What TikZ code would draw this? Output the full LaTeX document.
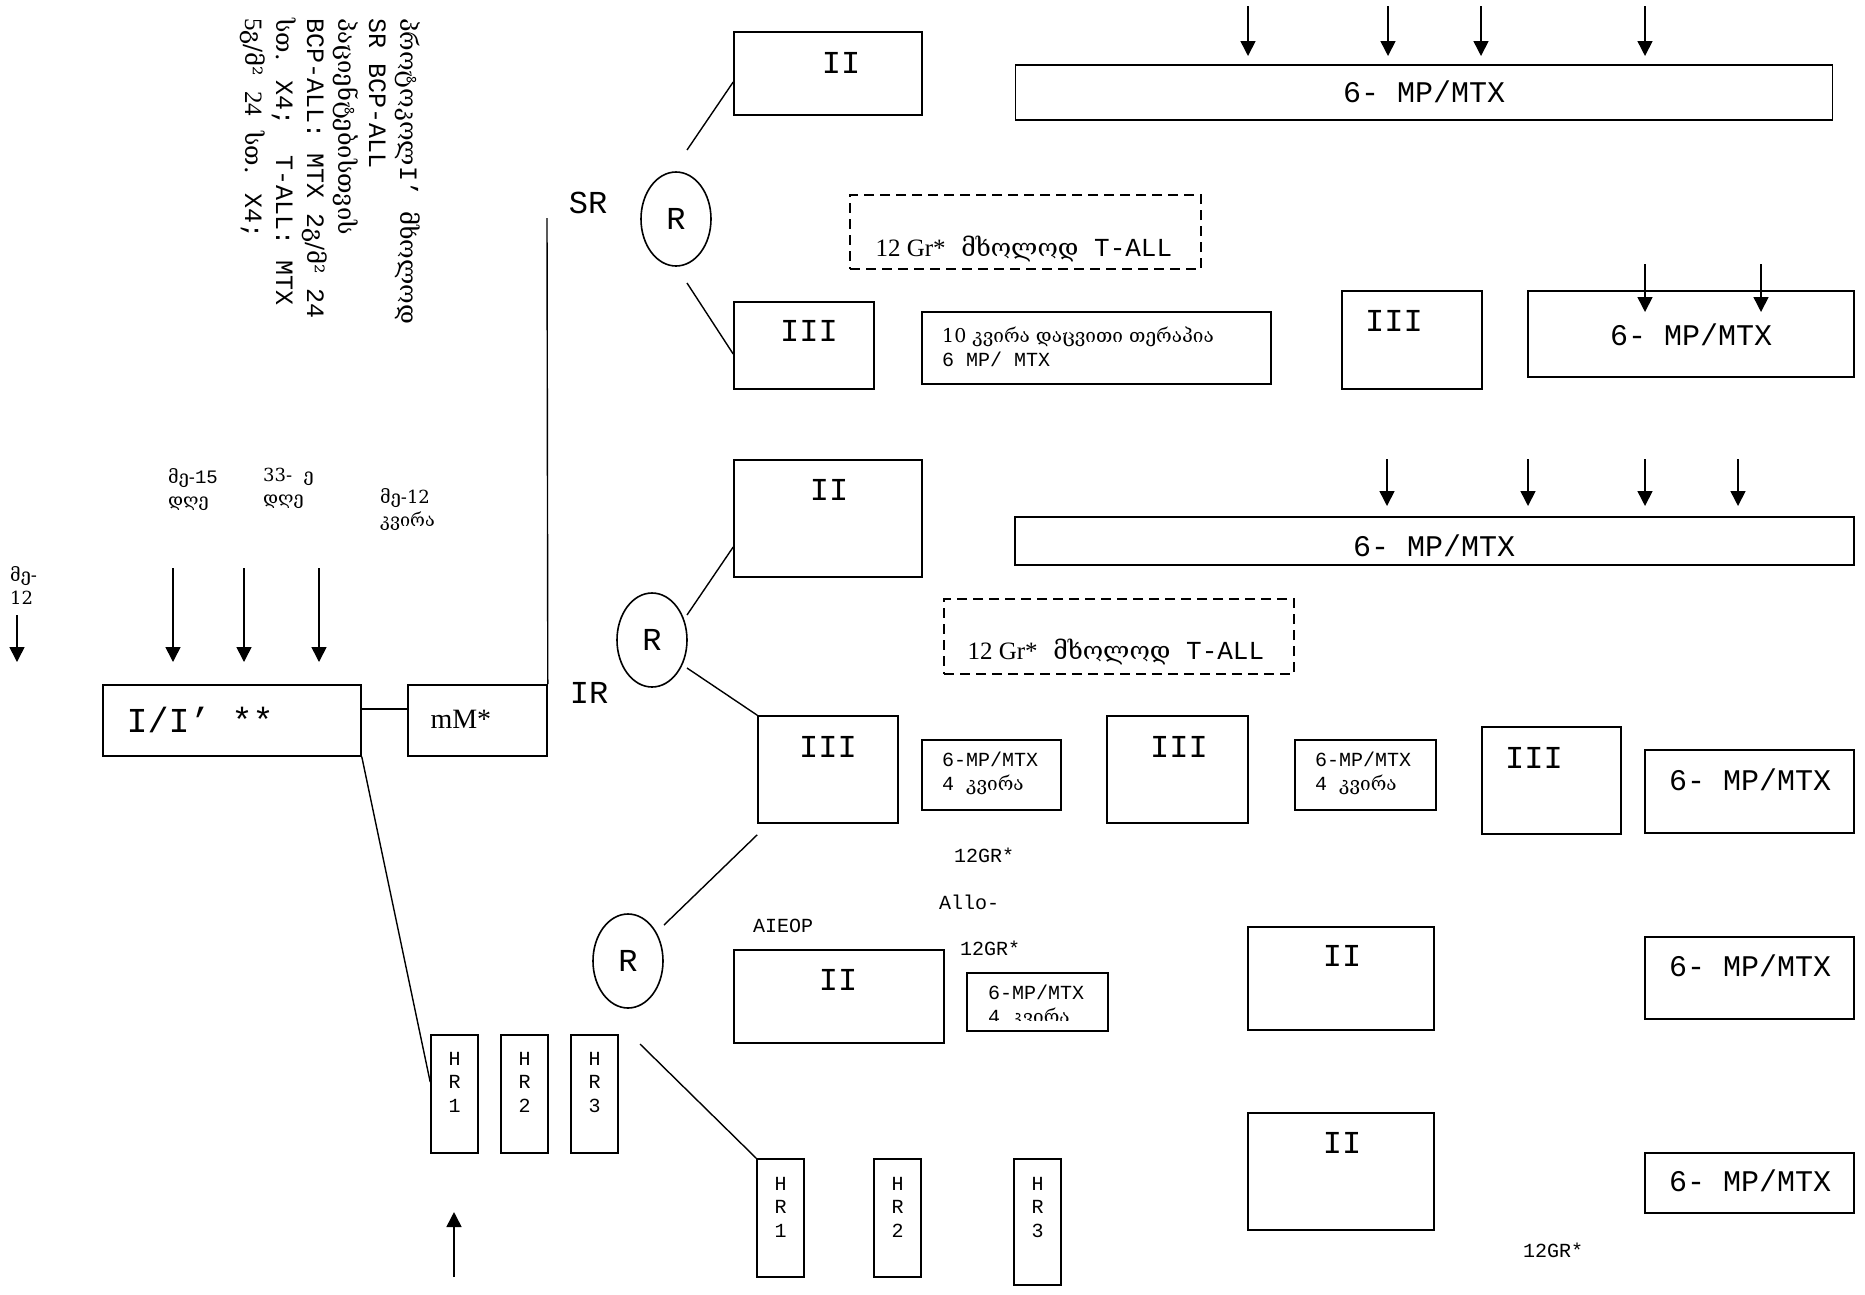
\documentclass[tikz,border=0pt]{standalone}
\usepackage{fontspec}
\setmainfont{Liberation Mono}
\newfontfamily\geo[Scale=0.95]{DejaVu Serif}
\newfontfamily\tms{Liberation Serif}
\usetikzlibrary{calc,arrows.meta,shapes.geometric}
\tikzset{
  box/.style={draw,line width=1.6pt,inner sep=0pt},
  dbox/.style={box,dash pattern=on 10pt off 6pt},
  rr/.style={draw,ellipse,line width=1.6pt,minimum width=70pt,minimum height=94pt,inner sep=0pt,font=\fontsize{32}{38}\selectfont},
  ln/.style={line width=1.4pt},
  ar/.style={-{Triangle[length=15pt,width=15pt]},line width=1.6pt},
  big/.style={font=\fontsize{32}{38}\selectfont},
  six/.style={font=\fontsize{30}{34}\selectfont},
  mid/.style={font=\fontsize{26}{30}\selectfont},
  sml/.style={font=\fontsize{20}{24}\selectfont,align=left,inner sep=0pt},
  geol/.style={font={\fontsize{19}{23}\selectfont\geo},align=left,inner sep=0pt},
  hr/.style={font=\fontsize{20}{23.5}\selectfont,align=center,inner sep=0pt}
}
\newcommand{\bx}[4]{\node[box,minimum width=#3pt,minimum height=#4pt] (#1) at (#2) {};}
\newcommand{\grnote}{{\fontsize{25}{30}\selectfont\tms 12 Gr*} {\fontsize{26}{30}\selectfont\geo მხოლოდ} T-ALL}
\newcommand{\mpmtx}{6- MP/MTX}

\begin{document}
\begin{tikzpicture}[x=1pt,y=-1pt]
\useasboundingbox (0,0) rectangle (1865,1294);

% protocol note
\node[rotate=-90,anchor=north west,align=left,inner sep=0pt,font=\fontsize{25}{31}\selectfont] (note) at (420,18)
  {{\geo პროტოკოლ}I’ {\geo მხოლოდ}\\SR BCP-ALL\\{\geo პაციენტებისთვის}\\BCP-ALL: MTX 2{\geo გ/მ²} 24\\{\geo სთ.} X4;\ \ T-ALL: MTX\\{\tms 5}{\geo გ/მ²} {\tms 24} {\geo სთ.} X4;};

% day marks
\node[geol,anchor=north west] (d15) at (168,468) {მე-{\rmfamily 15}\\დღე};
\node[geol,anchor=north west] (d33) at (263,468) {33-\ \ ე\\დღე};
\node[geol,anchor=north west] (w12) at (380,488) {მე-12\\კვირა};
\node[geol,anchor=north west] (l12) at (10,566) {მე-\\12};
\foreach \x/\y in {17/615,173/568,244/568,319/568} \draw[ar] (\x,\y) -- (\x,662);

% induction
\bx{ind}{232,720.5}{258}{71}
\node[font=\fontsize{35}{40}\selectfont,anchor=west] (indt) at (123,720) {I/I’ **};
\bx{mm}{477.5,720.5}{139}{71}
\node[font={\fontsize{28}{34}\selectfont\tms},anchor=west] (mmt) at (427,719) {mM*};
\draw[ln] ([yshift=11.5pt]ind.east) -- ([yshift=11.5pt]mm.west);
\coordinate (top) at (547,218);
\draw[ln] (mm.north east) -- (top);
\node[big] (srt) at (588,203) {SR};
\node[big] (irt) at (589,693) {IR};

\node[rr] (rsr) at (676,219) {R};
\node[rr] (rir) at (652,640) {R};
\node[rr] (rhr) at (628,961) {R};

% SR
\bx{iia}{828,73.5}{188}{83}
\node[big] (iiat) at (841,63) {II};
\draw[ln] ($(rsr)+(11,-69)$) -- ($(iia.west)+(0,8.5)$);
\bx{iiia}{804,345.5}{140}{87}
\node[big] (iiiat) at (809,331) {III};
\draw[ln] ($(rsr)+(11,64)$) -- ($(iiia.west)+(0,8.5)$);
\node[dbox,minimum width=351pt,minimum height=74pt] (gra) at (1025.5,232) {};
\node[mid,anchor=west] (grat) at (872,249) {\grnote};
\bx{mnt}{1096.5,348}{349}{72}
\node[sml,anchor=west] (mntt) at (942,347) {{\geo 10 კვირა დაცვითი თერაპია}\\6 MP/ MTX};
\bx{iiib}{1412,340}{140}{98}
\node[big] (iiibt) at (1394,321) {III};
\bx{mpa}{1424,92.5}{817}{55}
\node[six] (mpat) at (1424,92) {\mpmtx};
\foreach \x in {1248,1388,1481,1645} \draw[ar] (\x,6) -- (\x,56);
\bx{mpb}{1691,334}{326}{86}
\node[six] (mpbt) at (1691,335) {\mpmtx};
\foreach \x in {1645,1761} \draw[ar] (\x,264) -- (\x,312);

% IR
\bx{iib}{828,518.5}{188}{117}
\node[big] (iibt) at (829,490) {II};
\draw[ln] ($(rir)+(35,-25)$) -- ($(iib.west)+(0,28.5)$);
\bx{mpc}{1434.5,541}{839}{48}
\node[six] (mpct) at (1434,546) {\mpmtx};
\foreach \x in {1387,1528,1645,1738} \draw[ar] (\x,459) -- (\x,506);
\node[dbox,minimum width=350pt,minimum height=75pt] (grb) at (1119,636.5) {};
\node[mid,anchor=west] (grbt) at (964,652) {\grnote};
\bx{iiic}{828,769.5}{140}{107}
\node[big] (iiict) at (828,747) {III};
\draw[ln] ($(rir)+(35,28)$) -- (iiic.north west);
\bx{wka}{991.5,775}{139}{70}
\node[sml,anchor=west] (wkat) at (942,773) {6-MP/MTX\\4 {\geo კვირა}};
\bx{iiid}{1177.5,769.5}{141}{107}
\node[big] (iiidt) at (1179,747) {III};
\bx{wkb}{1365.5,775}{141}{70}
\node[sml,anchor=west] (wkbt) at (1315,773) {6-MP/MTX\\4 {\geo კვირა}};
\bx{iiie}{1551.5,780.5}{139}{107}
\node[big] (iiiet) at (1534,758) {III};
\bx{mpd}{1749.5,791.5}{209}{83}
\node[six] (mpdt) at (1750,780) {\mpmtx};

% HR
\draw[ln] ($(rhr)+(36,-36)$) -- ($(iiic.south west)+(0,11)$);
\node[sml] (gr1) at (984,855) {12GR*};
\node[sml] (allo) at (969,902) {Allo-};
\node[sml] (gr2) at (990,948) {12GR*};
\node[sml] (aieop) at (783,926) {AIEOP};
\bx{iic}{839,996.5}{210}{93}
\node[big] (iict) at (838,980) {II};
\bx{wkc}{1037.5,1002}{141}{58}
\begin{scope}
\clip (967,973) rectangle (1108,1020);
\node[sml,anchor=west] (wkct) at (988,1006) {6-MP/MTX\\4 {\geo კვირა}};
\end{scope}
\bx{iid}{1341,978.5}{186}{103}
\node[big] (iidt) at (1342,956) {II};
\bx{mpe}{1749.5,978}{209}{82}
\node[six] (mpet) at (1750,966) {\mpmtx};
\bx{iie}{1341,1171.5}{186}{117}
\node[big] (iiet) at (1342,1143) {II};
\bx{mpf}{1749.5,1183}{209}{60}
\node[six] (mpft) at (1750,1181) {\mpmtx};
\node[sml] (gr3) at (1553,1250) {12GR*};

% HR blocks
\foreach \n/\x in {1/454.5,2/524.5,3/594.5}{
  \bx{hl\n}{\x,1094}{47}{118}
  \node[hr] (hlt\n) at (\x,1082) {H\\R\\\n};
}
\draw[ln] (ind.south east) -- ($(hl1.west)+(0,-12)$);
\draw[ar] (454,1277) -- (454,1212);
\foreach \n/\x/\y/\h in {1/780.5/1218/118,2/897.5/1218/118,3/1037.5/1222/126}{
  \bx{hr\n}{\x,\y}{47}{\h}
  \node[hr] (hrt\n) at (\x,1207) {H\\R\\\n};
}
\draw[ln] ($(rhr)+(12,83)$) -- (hr1.north west);
\end{tikzpicture}
\end{document}
